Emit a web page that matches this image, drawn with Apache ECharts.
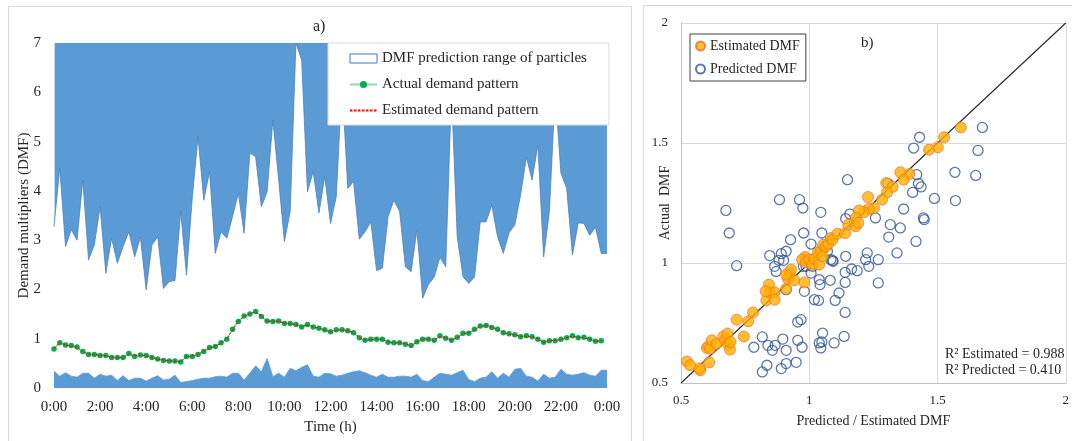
<!DOCTYPE html>
<html>
<head>
<meta charset="utf-8">
<script src="https://cdn.jsdelivr.net/npm/echarts@6/dist/echarts.min.js"></script>
<style>
html,body{margin:0;padding:0;background:#fff;}
#chart{width:1072px;height:441px;}
</style>
</head>
<body>
<div id="chart"></div>
<script>
// ---------- Panel a data (15-minute steps) ----------
const timeTicks = [0, 2, 4, 6, 8, 10, 12, 14, 16, 18, 20, 22, 24];
const upperBound = [3.27,4.46,2.87,3.21,3.00,4.22,2.60,2.90,3.68,2.33,3.04,2.53,2.87,3.17,2.66,3.06,1.99,2.90,3.07,2.02,
  2.16,2.18,3.58,2.29,3.85,5.10,3.81,4.39,2.73,3.17,3.04,3.48,3.95,3.14,4.77,4.69,3.68,3.98,5.44,4.22,
  2.97,3.58,7.00,6.65,3.98,4.39,3.55,4.29,3.34,3.88,6.20,4.05,4.19,3.02,3.17,3.37,2.38,2.43,3.48,3.81,
  3.58,2.46,2.36,3.21,1.82,2.10,2.25,2.65,2.46,6.00,3.07,2.26,2.12,2.25,3.37,3.37,3.71,3.07,2.73,3.15,
  3.31,3.92,4.68,4.22,4.93,2.66,3.58,6.00,4.36,4.05,2.70,3.35,3.34,3.10,3.26,2.73,2.73];
const lowerBound = [0.34,0.24,0.31,0.24,0.22,0.30,0.30,0.20,0.28,0.24,0.26,0.15,0.25,0.15,0.20,0.20,0.14,0.20,0.25,0.16,
  0.18,0.26,0.11,0.13,0.15,0.18,0.20,0.20,0.23,0.24,0.22,0.30,0.30,0.16,0.30,0.45,0.33,0.60,0.23,0.30,
  0.22,0.40,0.35,0.42,0.47,0.24,0.22,0.30,0.29,0.24,0.26,0.30,0.33,0.35,0.31,0.26,0.22,0.28,0.22,0.22,
  0.24,0.24,0.22,0.28,0.15,0.13,0.22,0.30,0.28,0.26,0.31,0.36,0.17,0.13,0.20,0.22,0.33,0.20,0.30,0.22,
  0.38,0.40,0.24,0.22,0.14,0.28,0.20,0.22,0.38,0.28,0.26,0.28,0.31,0.26,0.24,0.36,0.36];
const actualDemand = [0.79,0.92,0.87,0.86,0.83,0.74,0.68,0.68,0.66,0.66,0.62,0.62,0.62,0.70,0.64,0.67,0.66,0.62,0.59,0.56,
  0.55,0.55,0.53,0.64,0.64,0.68,0.74,0.82,0.84,0.92,0.99,1.19,1.35,1.46,1.50,1.55,1.45,1.36,1.35,1.36,
  1.31,1.31,1.29,1.24,1.29,1.24,1.21,1.18,1.14,1.18,1.18,1.16,1.12,1.02,0.97,0.99,0.99,0.99,0.93,0.92,
  0.92,0.89,0.86,0.94,0.99,0.99,0.97,1.06,1.01,0.97,1.03,1.11,1.11,1.19,1.26,1.27,1.23,1.19,1.12,1.10,
  1.08,1.04,1.06,1.04,0.99,0.93,0.96,0.96,0.99,1.02,1.06,1.02,1.03,0.99,0.95,0.96];
const estimatedDemand = [0.80,0.93,0.87,0.85,0.83,0.73,0.69,0.68,0.67,0.65,0.63,0.61,0.62,0.69,0.65,0.67,0.65,0.62,0.58,0.57,
  0.55,0.54,0.54,0.63,0.65,0.68,0.75,0.81,0.85,0.91,1.00,1.18,1.36,1.45,1.51,1.54,1.46,1.35,1.36,1.35,
  1.32,1.30,1.29,1.25,1.28,1.24,1.22,1.17,1.14,1.17,1.18,1.17,1.11,1.03,0.97,0.98,1.00,0.98,0.94,0.91,
  0.92,0.90,0.85,0.93,0.99,1.00,0.96,1.05,1.02,0.97,1.02,1.10,1.12,1.18,1.25,1.27,1.24,1.18,1.13,1.09,
  1.08,1.05,1.05,1.04,1.00,0.92,0.96,0.97,0.98,1.02,1.05,1.03,1.02,1.00,0.94,0.96];

// ---------- Panel b data ----------
const estX = [1.591,1.526,1.501,1.467,1.390,1.355,1.368,1.300,1.325,1.303,1.284,1.229,1.252,1.232,1.213,1.194,1.181,
  0.523,0.536,0.575,0.572,0.610,0.601,0.607,0.613,0.620,0.639,0.665,0.672,0.681,0.684,0.691,0.693,0.717,0.745,0.762,
  0.781,0.833,0.846,0.843,0.865,0.865,0.830,0.910,0.917,0.923,0.942,0.929,0.910,0.981,0.984,0.972,0.987,1.000,1.011,
  1.020,1.033,1.039,1.045,1.052,1.054,1.065,1.075,1.084,1.091,1.110,1.140,1.152,1.181,1.191];
const estY = [1.565,1.524,1.482,1.472,1.371,1.378,1.347,1.333,1.317,1.294,1.264,1.275,1.229,1.225,1.211,1.219,1.188,
  0.590,0.574,0.553,0.561,0.586,0.646,0.653,0.643,0.678,0.663,0.694,0.678,0.706,0.660,0.639,0.671,0.764,0.694,0.757,
  0.794,0.844,0.878,0.910,0.878,0.847,0.882,0.892,0.933,0.958,0.928,0.972,0.951,0.919,1.025,1.014,1.003,1.014,0.993,
  1.017,1.042,0.993,1.051,1.028,1.076,1.069,1.081,1.104,1.097,1.122,1.125,1.160,1.153,1.167];
const predX = [1.675,1.430,1.407,1.658,1.568,1.649,1.419,1.149,1.307,1.426,1.436,1.403,1.488,1.570,0.884,0.962,0.975,
  0.675,1.045,1.158,1.368,1.445,1.258,1.142,
  0.688,0.717,0.846,0.865,0.871,0.882,0.891,0.900,0.910,0.927,0.978,1.007,1.049,1.052,1.071,1.084,1.091,1.142,1.140,
  1.165,1.187,1.226,1.232,1.220,1.269,1.269,1.342,1.310,1.316,1.355,1.416,1.448,0.977,0.987,1.007,1.013,1.039,1.042,
  1.082,1.093,1.116,1.101,1.036,1.020,1.140,1.140,0.981,0.968,0.955,0.910,0.817,0.784,0.839,0.856,0.867,0.897,0.910,
  0.955,0.972,0.835,0.817,0.891,0.910,0.949,1.039,1.052,1.049,1.045,1.097,1.136];
const predY = [1.565,1.524,1.479,1.469,1.378,1.365,1.368,1.347,1.331,1.331,1.317,1.294,1.269,1.260,1.264,1.264,1.229,
  1.219,1.211,1.204,1.225,1.188,1.188,1.185,
  1.125,0.989,1.031,0.986,0.965,1.011,1.039,1.011,1.049,1.097,1.125,1.079,1.125,1.056,1.049,1.014,1.010,1.028,0.961,
  0.975,0.968,1.042,0.986,1.014,1.014,0.917,1.042,1.108,1.160,1.146,1.090,1.181,0.986,0.986,0.958,0.986,0.931,0.910,
  0.928,1.007,0.875,0.844,0.844,0.847,0.794,0.919,0.882,0.764,0.754,0.889,0.692,0.649,0.657,0.636,0.657,0.683,0.636,
  0.678,0.649,0.574,0.546,0.560,0.581,0.586,0.667,0.708,0.671,0.646,0.667,0.694];
const r2Labels = ['R² Estimated = 0.988', 'R² Predicted = 0.410'];

// ---------- build ----------
const SERIF = "'Liberation Serif','Times New Roman',serif";
const TXT = '#262626';
const BLUE = '#5B9BD5';
const step = 0.25;
const bandUpper = upperBound.map((v, i) => [i * step, v]);
const bandLower = lowerBound.map((v, i) => [i * step, v]);
const actPts = actualDemand.map((v, i) => [i * step, v]);
const estPts = estimatedDemand.map((v, i) => [i * step, v]);
const estScatter = estX.map((x, i) => [x, estY[i]]);
const predScatter = predX.map((x, i) => [x, predY[i]]);

const chart = echarts.init(document.getElementById('chart'), null, {renderer: 'canvas'});
chart.setOption({
  animation: false,
  textStyle: {fontFamily: SERIF, color: TXT},
  graphic: [
    {type: 'rect', z: -10, shape: {x: 8.5, y: 6.5, width: 623, height: 450}, style: {fill: 'none', stroke: '#D9D9D9', lineWidth: 1}},
    {type: 'rect', z: -10, shape: {x: 643.5, y: 5.5, width: 440, height: 450}, style: {fill: 'none', stroke: '#D9D9D9', lineWidth: 1}},
    {type: 'text', left: 313, top: 19, style: {text: 'a)', font: "16px " + SERIF, fill: TXT}},
    {type: 'text', left: 861, top: 36, style: {text: 'b)', font: "15px " + SERIF, fill: TXT}},
    {type: 'text', left: 945, top: 347, style: {text: r2Labels[0], font: "14px " + SERIF, fill: TXT}},
    {type: 'text', left: 945, top: 363, style: {text: r2Labels[1], font: "14px " + SERIF, fill: TXT}}
  ],
  legend: [
    {
      orient: 'vertical', left: 328, top: 43,
      backgroundColor: '#fff', borderColor: '#D9D9D9', borderWidth: 1,
      padding: [8, 22, 7, 21], itemGap: 11, itemWidth: 27, itemHeight: 9,
      textStyle: {fontFamily: SERIF, fontSize: 15, color: TXT},
      data: [
        {name: 'DMF prediction range of particles', icon: 'rect', itemStyle: {color: '#fff', borderColor: '#4472C4', borderWidth: 1}},
        {name: 'Actual demand pattern', itemStyle: {color: '#00B050'}},
        {name: 'Estimated demand pattern', itemStyle: {color: 'rgba(0,0,0,0)', borderWidth: 0}}
      ]
    },
    {
      orient: 'vertical', left: 690, top: 34,
      backgroundColor: '#fff', borderColor: '#404040', borderWidth: 1,
      padding: [5, 6, 5, 5], itemGap: 9, itemWidth: 9, itemHeight: 9,
      textStyle: {fontFamily: SERIF, fontSize: 14, color: TXT},
      data: [
        {name: 'Estimated DMF', icon: 'circle'},
        {name: 'Predicted DMF', icon: 'circle'}
      ]
    }
  ],
  grid: [
    {left: 54, right: 465, top: 43, bottom: 53, show: true, backgroundColor: BLUE, borderWidth: 0},
    {left: 681, right: 4, top: 23, bottom: 58}
  ],
  xAxis: [
    {
      gridIndex: 0, type: 'value', min: timeTicks[0], max: timeTicks[timeTicks.length - 1], interval: 2,
      name: 'Time (h)', nameLocation: 'middle', nameGap: 32,
      nameTextStyle: {fontFamily: SERIF, fontSize: 15, color: TXT},
      axisLine: {show: false}, axisTick: {show: false}, splitLine: {show: false},
      axisLabel: {margin: 12, fontFamily: SERIF, fontSize: 15, color: TXT, formatter: v => (v % 24) + ':00'}
    },
    {
      gridIndex: 1, type: 'value', min: 0.5, max: 2, interval: 0.5,
      name: 'Predicted / Estimated DMF', nameLocation: 'middle', nameGap: 31,
      nameTextStyle: {fontFamily: SERIF, fontSize: 14, color: TXT},
      axisLine: {show: true, lineStyle: {color: '#BFBFBF'}}, axisTick: {show: false},
      splitLine: {show: true, lineStyle: {color: '#D9D9D9'}},
      axisLabel: {margin: 11, fontFamily: SERIF, fontSize: 13, color: TXT}
    }
  ],
  yAxis: [
    {
      gridIndex: 0, type: 'value', min: 0, max: 7, interval: 1,
      name: 'Demand multipliers (DMF)', nameLocation: 'middle', nameGap: 22, nameMoveOverlap: false,
      nameTextStyle: {fontFamily: SERIF, fontSize: 15, color: TXT},
      axisLine: {show: true, lineStyle: {color: '#BDD7EE'}}, axisTick: {show: false}, splitLine: {show: false},
      axisLabel: {margin: 13, fontFamily: SERIF, fontSize: 15, color: TXT}
    },
    {
      gridIndex: 1, type: 'value', min: 0.5, max: 2, interval: 0.5,
      name: 'Actual  DMF', nameLocation: 'middle', nameGap: 9, nameMoveOverlap: false,
      nameTextStyle: {fontFamily: SERIF, fontSize: 14, color: TXT},
      axisLine: {show: true, lineStyle: {color: '#BFBFBF'}}, axisTick: {show: false},
      splitLine: {show: true, lineStyle: {color: '#D9D9D9'}},
      axisLabel: {margin: 13, fontFamily: SERIF, fontSize: 13, color: TXT}
    }
  ],
  series: [
    {
      name: 'DMF prediction range of particles', type: 'line', xAxisIndex: 0, yAxisIndex: 0,
      data: bandUpper, symbol: 'none', smooth: false,
      lineStyle: {color: '#4F81BD', width: 0.8},
      areaStyle: {color: '#fff', opacity: 1},
      itemStyle: {color: '#fff'}
    },
    {
      name: 'lower', type: 'line', xAxisIndex: 0, yAxisIndex: 0,
      data: bandLower, symbol: 'none',
      lineStyle: {color: '#5B9BD5', width: 0.8},
      areaStyle: {color: BLUE, opacity: 1}
    },
    {
      name: 'Actual demand pattern', type: 'line', xAxisIndex: 0, yAxisIndex: 0,
      data: actPts, symbol: 'circle', symbolSize: 5.5, showSymbol: true, z: 3,
      lineStyle: {color: '#8FDCAA', width: 1.2},
      itemStyle: {color: '#00B050', borderWidth: 0}
    },
    {
      name: 'Estimated demand pattern', type: 'line', xAxisIndex: 0, yAxisIndex: 0,
      data: estPts, symbol: 'none', z: 4,
      lineStyle: {color: '#FF0000', width: 1, type: [2.5, 1.5]},
      itemStyle: {color: '#FF0000'}
    },
    {
      name: 'diag', type: 'line', xAxisIndex: 1, yAxisIndex: 1,
      data: [[0.5, 0.5], [2, 2]], symbol: 'none', silent: true,
      lineStyle: {color: '#262626', width: 1.1}, z: 1
    },
    {
      name: 'Predicted DMF', type: 'scatter', xAxisIndex: 1, yAxisIndex: 1,
      data: predScatter, symbol: 'circle', symbolSize: 10, z: 2,
      itemStyle: {color: 'rgba(255,255,255,0)', borderColor: '#2F5597', borderWidth: 1.3}
    },
    {
      name: 'Estimated DMF', type: 'scatter', xAxisIndex: 1, yAxisIndex: 1,
      data: estScatter, symbol: 'circle', symbolSize: 11, z: 3,
      itemStyle: {color: '#FFB000', borderColor: '#F26B2E', borderWidth: 0.9}
    }
  ]
});
</script>
</body>
</html>
